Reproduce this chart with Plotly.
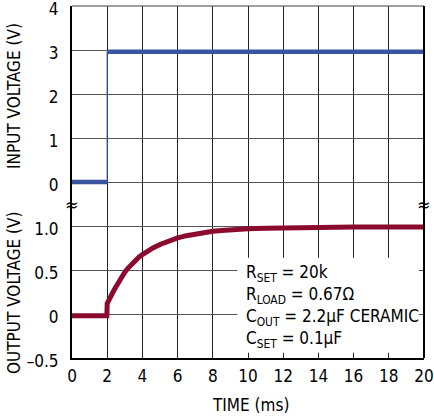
import plotly.graph_objects as go

# ---- data ----
t_in_low = [0.0, 2.0]
v_in_low = [0.0, 0.0]
t_in_high = [2.0, 20.0]
v_in_high = [2.96, 2.96]
t_step = [2.0, 2.0]
v_step = [0.0, 2.96]

t_out = [0, 1, 1.98, 2.0, 2.1, 2.2, 2.3, 2.4, 2.5, 2.6, 2.7, 2.8, 3.0, 3.2, 3.4, 3.6, 3.8,
         4.0, 4.3, 4.6, 5.0, 5.5, 6.0, 6.5, 7.0, 7.5, 8.0, 8.5, 9.0, 10, 11, 12, 13, 14,
         16, 18, 20]
v_out = [-0.02, -0.02, -0.02, 0.12, 0.165, 0.20, 0.24, 0.275, 0.31, 0.345, 0.38, 0.41,
         0.475, 0.525, 0.57, 0.61, 0.645, 0.675, 0.715, 0.75, 0.79, 0.83, 0.865, 0.89,
         0.91, 0.925, 0.94, 0.95, 0.958, 0.968, 0.975, 0.98, 0.985, 0.99, 0.99, 0.99, 0.99]

x_ticks = [0, 2, 4, 6, 8, 10, 12, 14, 16, 18, 20]
in_ticks = [0, 1, 2, 3, 4]
out_ticks = [-0.5, 0, 0.5, 1.0]
out_tick_text = ["\u20130.5", "0", "0.5", "1.0"]

note_lines = ["R<sub>SET</sub> = 20k", "R<sub>LOAD</sub> = 0.67\u03a9",
              "C<sub>OUT</sub> = 2.2\u00b5F CERAMIC", "C<sub>SET</sub> = 0.1\u00b5F"]

BLUE = "#3a54a4"
RED = "#8c0a2e"
FONT = "Liberation Sans Narrow, Arial Narrow, DejaVu Sans Condensed, sans-serif"

fig = go.Figure()
fig.add_trace(go.Scatter(x=t_in_low, y=v_in_low, mode="lines", line=dict(color=BLUE, width=4.5),
                         xaxis="x2", yaxis="y2", showlegend=False))
fig.add_trace(go.Scatter(x=t_step, y=v_step, mode="lines", line=dict(color=BLUE, width=1.2),
                         xaxis="x2", yaxis="y2", showlegend=False))
fig.add_trace(go.Scatter(x=t_in_high, y=v_in_high, mode="lines", line=dict(color=BLUE, width=4.5),
                         xaxis="x2", yaxis="y2", showlegend=False))
fig.add_trace(go.Scatter(x=t_out, y=v_out, mode="lines", line=dict(color=RED, width=5),
                         xaxis="x", yaxis="y", showlegend=False))

split = 154 / 352.0
vgrid = dict(range=[0, 20], tickvals=x_ticks, showgrid=True, gridcolor="#222222", gridwidth=1.2,
             zeroline=False, fixedrange=True, automargin=False, ticklabeloverflow="allow")
ycommon = dict(showgrid=True, gridcolor="#555555", gridwidth=1.2, zeroline=False,
               showline=True, linecolor="black", linewidth=2, ticks="", ticklabelstandoff=8,
               ticklabelshift=3, automargin=False, ticklabeloverflow="allow", fixedrange=True)
fig.update_layout(
    width=434, height=419,
    margin=dict(l=72, r=10, t=6, b=61),
    paper_bgcolor="white", plot_bgcolor="white",
    font=dict(family=FONT, size=17, color="black"),
    xaxis=dict(**vgrid, showline=True, linecolor="black", linewidth=2, ticks="",
               ticklabelstandoff=2, anchor="y"),
    xaxis2=dict(**vgrid, showticklabels=False, matches="x", anchor="y2"),
    yaxis=dict(**ycommon, domain=[0, split], range=[-0.5, 1.25], tickvals=out_ticks,
               ticktext=out_tick_text, anchor="x"),
    yaxis2=dict(**ycommon, domain=[split, 1], range=[-0.5, 4], tickvals=in_ticks, anchor="x2"),
)

# frame top and right
fig.add_shape(type="line", xref="paper", yref="paper", x0=0, x1=1, y0=1, y1=1,
              line=dict(color="#444444", width=1.2))
fig.add_shape(type="line", xref="paper", yref="paper", x0=1, x1=1, y0=0, y1=1,
              line=dict(color="black", width=2))

# white box behind the note
fig.add_shape(type="rect", xref="x", yref="y", x0=9.4, x1=19.7, y0=-0.44, y1=0.64,
              fillcolor="white", line=dict(width=0), layer="between")

fig.add_annotation(xref="x", yref="y", x=9.8, y=0.09, xanchor="left", yanchor="middle",
                   text="<br>".join(note_lines), showarrow=False, align="left",
                   font=dict(size=17))

# axis titles
fig.add_annotation(xref="paper", yref="paper", x=(14 - 72) / 352.0, y=(358 - 96) / 352.0,
                   text="INPUT VOLTAGE (V)", textangle=-90, showarrow=False,
                   xanchor="center", yanchor="middle", font=dict(size=17))
fig.add_annotation(xref="paper", yref="paper", x=(14 - 72) / 352.0, y=(358 - 293) / 352.0,
                   text="OUTPUT VOLTAGE (V)", textangle=-90, showarrow=False,
                   xanchor="center", yanchor="middle", font=dict(size=17))
fig.add_annotation(xref="paper", yref="paper", x=(250 - 72) / 352.0, y=(358 - 405) / 352.0,
                   text="TIME (ms)", showarrow=False, xanchor="center", yanchor="middle",
                   font=dict(size=17))

# break marks
for xp in [0, 1]:
    fig.add_annotation(xref="paper", yref="paper", x=xp, y=split, text="\u2248",
                       showarrow=False, xanchor="center", yanchor="middle",
                       font=dict(size=18))

fig.write_html("out.html", config={"displayModeBar": False},
               post_script="document.body.style.margin='0px';")
